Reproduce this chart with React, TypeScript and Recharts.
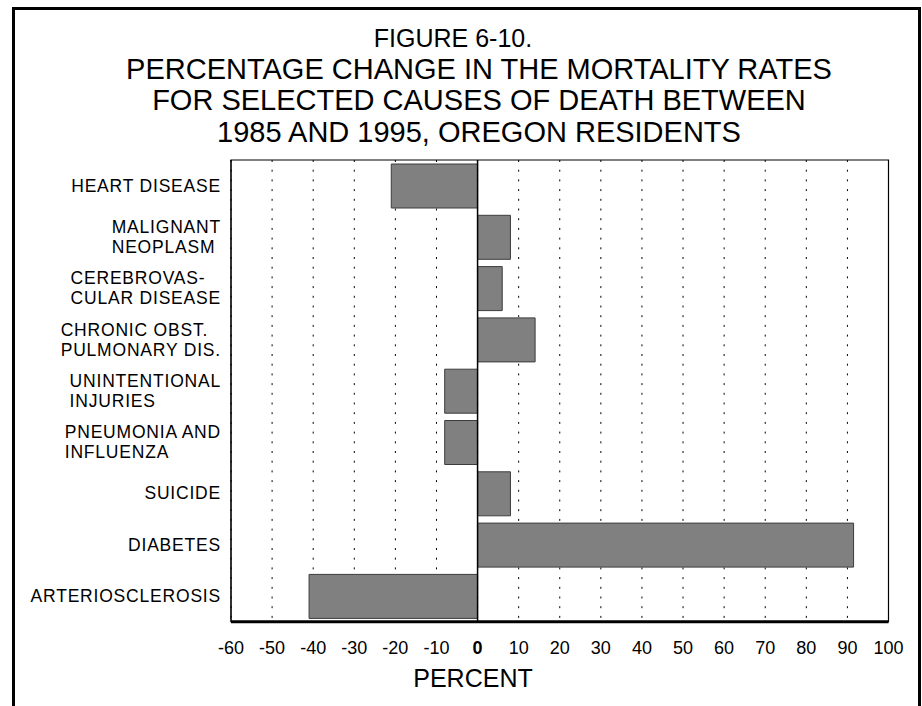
import {
  BarChart,
  Bar,
  XAxis,
  YAxis,
  CartesianGrid,
  ReferenceArea,
  ReferenceLine,
} from "recharts";

// causes of death, top to bottom ("\n" marks the label line break)
const CAUSES = [
  "HEART DISEASE",
  "MALIGNANT\nNEOPLASM",
  "CEREBROVAS-\nCULAR DISEASE",
  "CHRONIC OBST.\nPULMONARY DIS.",
  "UNINTENTIONAL\nINJURIES",
  "PNEUMONIA AND\nINFLUENZA",
  "SUICIDE",
  "DIABETES",
  "ARTERIOSCLEROSIS",
];

// percentage change 1985 -> 1995
const CHANGE = [-21, 8, 6, 14, -8, -8, 8, 91.5, -41];

const X_TICKS = [-60, -50, -40, -30, -20, -10, 0, 10, 20, 30, 40, 50, 60, 70, 80, 90, 100];

const TITLE_LINES = [
  "FIGURE 6-10.",
  "PERCENTAGE CHANGE IN THE MORTALITY RATES",
  "FOR SELECTED CAUSES OF DEATH BETWEEN",
  "1985 AND 1995, OREGON RESIDENTS",
];

const FONT = '"Liberation Sans", Arial, Helvetica, sans-serif';

const data = CAUSES.map((cause, i) => ({ cause, change: CHANGE[i] }));

type TickProps = {
  x?: number;
  y?: number;
  payload?: { value: string | number };
};

// multi-line category label, left aligned inside a right aligned block
const CauseTick = ({ x = 0, y = 0, payload }: TickProps) => {
  const lines = String(payload?.value ?? "").split("\n");
  return (
    <foreignObject x={x - 215} y={y - 30} width={215} height={60}>
      <div
        style={{
          display: "flex",
          height: 60,
          alignItems: "center",
          justifyContent: "flex-end",
          fontFamily: FONT,
          fontSize: 17.5,
          lineHeight: "20px",
          letterSpacing: 0.8,
          color: "#000",
        }}
      >
        <div style={{ textAlign: "left", whiteSpace: "nowrap" }}>
          {lines.map((l) => (
            <div key={l}>{l}</div>
          ))}
        </div>
      </div>
    </foreignObject>
  );
};

const PercentTick = ({ x = 0, y = 0, payload }: TickProps) => (
  <text
    x={x}
    y={y}
    dy="0.71em"
    textAnchor="middle"
    fontFamily={FONT}
    fontSize={18}
    fontWeight={payload?.value === 0 ? "bold" : "normal"}
    fill="#000"
  >
    {payload?.value}
  </text>
);

export default function App() {
  return (
    <div
      style={{
        position: "absolute",
        left: 0,
        top: 0,
        width: 922,
        height: 706,
        overflow: "hidden",
        background: "#fff",
        fontFamily: FONT,
      }}
    >
      {/* frame around the figure */}
      <div
        style={{
          position: "absolute",
          left: 12,
          top: 7,
          width: 909,
          height: 730,
          boxSizing: "border-box",
          border: "3px solid #000",
        }}
      />

      {TITLE_LINES.map((line, i) => (
        <div
          key={line}
          style={{
            position: "absolute",
            left: (i === 0 ? 453 : 479) - 400,
            width: 800,
            top: [25.5, 54.5, 86, 117.5][i],
            textAlign: "center",
            fontSize: i === 0 ? 25 : 29,
            lineHeight: 1,
            color: "#000",
            whiteSpace: "nowrap",
          }}
        >
          {line}
        </div>
      ))}

      <div style={{ position: "absolute", left: 0, top: 0 }}>
        <BarChart
          layout="vertical"
          width={922}
          height={706}
          data={data}
          margin={{ top: 160, right: 33.5, left: 0, bottom: 0 }}
        >
          <CartesianGrid
            horizontal={false}
            vertical
            stroke="#000"
            strokeDasharray="2 7.7"
          />
          <XAxis
            type="number"
            domain={[-60, 100]}
            ticks={X_TICKS}
            interval={0}
            allowDataOverflow
            height={84.3}
            axisLine={{ stroke: "#000", strokeWidth: 3 }}
            tickLine={false}
            tickSize={6}
            tickMargin={14}
            tick={<PercentTick />}
          />
          <YAxis
            type="category"
            dataKey="cause"
            width={231}
            interval={0}
            axisLine={{ stroke: "#000" }}
            tickLine={false}
            tickSize={0}
            tickMargin={10}
            tick={<CauseTick />}
          />
          <ReferenceArea
            x1={-60}
            x2={100}
            fill="none"
            stroke="#000"
            strokeWidth={1.2}
            ifOverflow="visible"
          />
          <ReferenceLine x={0} stroke="#000" strokeWidth={1.5} />
          <Bar
            dataKey="change"
            barSize={44}
            fill="#808080"
            stroke="#3c3c3c"
            strokeWidth={1}
            isAnimationActive={false}
          />
        </BarChart>
      </div>

      <div
        style={{
          position: "absolute",
          left: 473 - 100,
          width: 200,
          top: 666,
          textAlign: "center",
          fontSize: 25,
          lineHeight: 1,
          color: "#000",
        }}
      >
        PERCENT
      </div>
    </div>
  );
}
